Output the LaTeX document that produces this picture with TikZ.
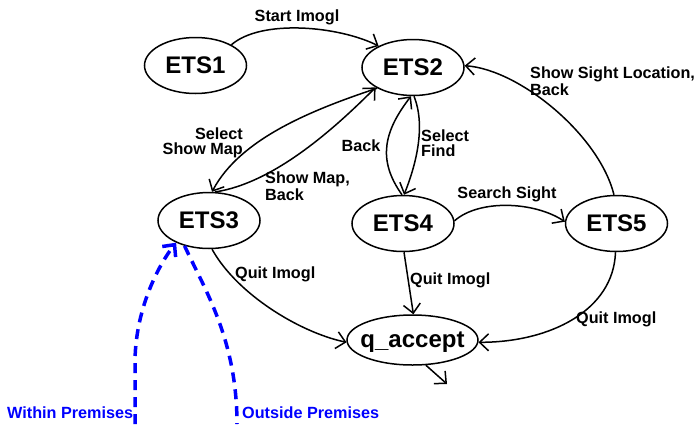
\documentclass[tikz,border=0pt]{standalone}
\usepackage{fontspec}
\setmainfont{Liberation Sans}
\usetikzlibrary{arrows.meta,shapes.geometric}

\begin{document}
\begin{tikzpicture}[x=1pt,y=-1pt,
  state/.style={ellipse,draw,line width=1.5pt,inner xsep=-25pt,inner ysep=0pt,
    minimum width=102pt,minimum height=56pt,text height=15pt,text depth=0pt,
    font=\fontsize{24}{24}\selectfont\bfseries},
  lbl/.style={inner sep=0pt,align=left,font=\fontsize{16.2}{15}\selectfont\bfseries},
  lblr/.style={lbl,align=right},
  zonelbl/.style={lbl,text=blue},
  trans/.style={line width=1.5pt,-{Straight Barb[length=9pt,width=17pt,line width=1.5pt]}},
  zone/.style={blue,line width=3.5pt,dash pattern=on 10pt off 7pt},
  zonearrow/.style={zone,-{Straight Barb[length=9pt,width=17pt,line width=3.5pt]}},
]
\useasboundingbox (0,0) rectangle (697,424);

% states
\node[state] (ets1) at (195.5,65.5) {ETS1};
\node[state] (ets2) at (413,67.5) {ETS2};
\node[state] (ets3) at (209,220.5) {ETS3};
\node[state] (ets4) at (403,223.5) {ETS4};
\node[state] (ets5) at (616.5,223.5) {ETS5};
\node[state,minimum width=131pt,minimum height=50pt] (qacc) at (412.5,340) {q\_accept};

% free ends
\coordinate (qout) at (447,384);
\coordinate (wp) at (135,424);
\coordinate (wpk) at (135,360);
\coordinate (op) at (237,424);

% transitions
\draw[trans] (ets1.30) .. controls +(30,-26) and +(-40,-20) .. (ets2.148);
\draw[trans] (ets2.210) .. controls +(-66,22) and +(28,-53) .. (ets3.84);
\draw[trans] (ets3.78) .. controls +(60,-9) and +(-39,39) .. (ets2.208);
\draw[trans] (ets4.92) .. controls +(-25,-35) and +(-27,35) .. (ets2.266);
\draw[trans] (ets2.272) .. controls +(12,30) and +(12,-30) .. (ets4.88);
\draw[trans] (ets4.3) .. controls +(25,-22) and +(-30,-20) .. (ets5.178);
\draw[trans] (ets5.95) .. controls +(-15,-60) and +(55,4) .. (ets2.2);
\draw[trans] (ets4.272) -- (qacc.88);
\draw[trans] (ets5.268) .. controls +(-2,58) and +(72,0) .. (qacc.358);
\draw[trans] (ets3.276) .. controls +(25,45) and +(-47,-10) .. (qacc.182);
\draw[trans] (qacc.-62) -- (qout);

% premises
\draw[zonearrow] (wp) -- (wpk) .. controls +(1,-55) and +(-15,19) .. (ets3.214);
\draw[zone] (ets3.226) .. controls (205,290) and (237,340) .. (op);

% labels
\node[lbl,anchor=north] (lstart) at (297,10) {Start Imogl};
\node[lblr,anchor=north east] (lselmap) at (243,128) {Select\\Show Map};
\node[lbl,anchor=north west] (lshowmap) at (265,172) {Show Map,\\Back};
\node[lbl,anchor=north] (lback) at (361,140) {Back};
\node[lbl,anchor=north west] (lfind) at (421,130) {Select\\Find};
\node[lbl,anchor=north] (lsearch) at (507,187) {Search Sight};
\node[lbl,anchor=north west] (lloc) at (530,67) {Show Sight Location,\\Back};
\node[lbl,anchor=north west] (lquit3) at (235,267) {Quit Imogl};
\node[lbl,anchor=north west] (lquit4) at (410,273) {Quit Imogl};
\node[lbl,anchor=north west] (lquit5) at (576,312) {Quit Imogl};
\node[zonelbl,anchor=north west] (lwithin) at (7,407) {Within Premises};
\node[zonelbl,anchor=north west] (loutside) at (242,407) {Outside Premises};
\end{tikzpicture}
\end{document}
